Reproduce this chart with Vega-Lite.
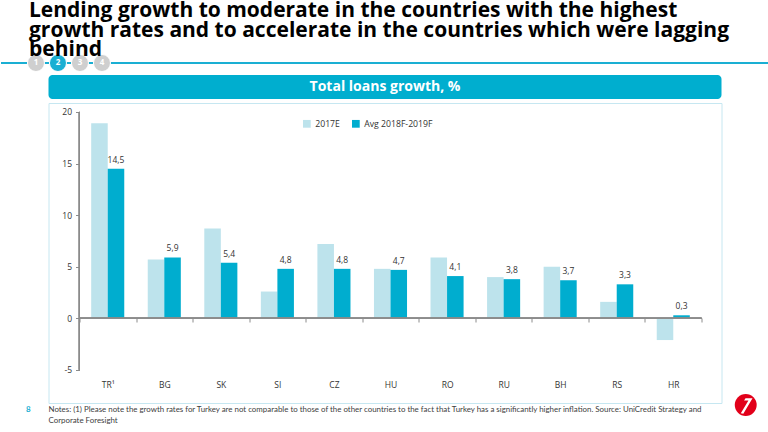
{
  "$schema": "https://vega.github.io/schema/vega-lite/v6.json",
  "padding": 0,
  "background": "white",
  "title": {
    "text": ["Lending growth to moderate in the countries with the highest", "growth rates and to accelerate in the countries which were lagging", "behind"],
    "anchor": "start",
    "frame": "group",
    "dx": 28,
    "font": "Open Sans",
    "fontSize": 21,
    "fontWeight": "bold",
    "color": "#000000",
    "lineHeight": 19.5,
    "offset": -8
  },
  "center": true,
  "bounds": "flush",
  "spacing": 4,
  "resolve": {"scale": {"color": "independent"}, "legend": {"color": "independent"}},
  "vconcat": [
    {
      "width": 768,
      "height": 16,
      "data": {"values": [
        {"n": 1, "label": "1", "state": "other"},
        {"n": 2, "label": "2", "state": "current"},
        {"n": 3, "label": "3", "state": "other"},
        {"n": 4, "label": "4", "state": "other"}
      ]},
      "layer": [
        {
          "mark": {"type": "rule", "color": "#1AAFD3", "strokeWidth": 1.5},
          "encoding": {"y": {"datum": 0, "type": "quantitative", "scale": {"domain": [-1, 1]}, "axis": null}}
        },
        {
          "mark": {"type": "point", "filled": true, "size": 290, "opacity": 1, "stroke": "white", "strokeWidth": 1},
          "encoding": {
            "x": {"field": "n", "type": "quantitative", "scale": {"domain": [-0.59, 34.32], "nice": false, "zero": false}, "axis": null},
            "y": {"datum": 0, "type": "quantitative"},
            "color": {"condition": {"test": "datum.state === 'current'", "value": "#1AAFD3"}, "value": "#CFCFCF"}
          }
        },
        {
          "mark": {"type": "text", "color": "white", "font": "Open Sans", "fontSize": 8, "fontWeight": "bold"},
          "encoding": {
            "x": {"field": "n", "type": "quantitative"},
            "y": {"datum": 0, "type": "quantitative"},
            "text": {"field": "label"}
          }
        }
      ]
    },
    {
      "width": 673,
      "height": 24,
      "data": {"values": [{"title": "Total loans growth, %"}]},
      "layer": [
        {"mark": {"type": "rect", "color": "#00AECF", "cornerRadius": 4}, "encoding": {}},
        {"mark": {"type": "text", "color": "white", "font": "Open Sans", "fontSize": 14, "fontWeight": "bold"}, "encoding": {"text": {"field": "title"}}}
      ]
    },
    {
      "width": 673,
      "height": 300,
      "view": {"stroke": "#C6E7F1", "strokeWidth": 1},
      "data": {"values": [
        {"country": "TR¹", "series": "2017E", "value": 18.9},
        {"country": "TR¹", "series": "Avg 2018F-2019F", "value": 14.5},
        {"country": "BG", "series": "2017E", "value": 5.7},
        {"country": "BG", "series": "Avg 2018F-2019F", "value": 5.9},
        {"country": "SK", "series": "2017E", "value": 8.7},
        {"country": "SK", "series": "Avg 2018F-2019F", "value": 5.4},
        {"country": "SI", "series": "2017E", "value": 2.6},
        {"country": "SI", "series": "Avg 2018F-2019F", "value": 4.8},
        {"country": "CZ", "series": "2017E", "value": 7.2},
        {"country": "CZ", "series": "Avg 2018F-2019F", "value": 4.8},
        {"country": "HU", "series": "2017E", "value": 4.8},
        {"country": "HU", "series": "Avg 2018F-2019F", "value": 4.7},
        {"country": "RO", "series": "2017E", "value": 5.9},
        {"country": "RO", "series": "Avg 2018F-2019F", "value": 4.1},
        {"country": "RU", "series": "2017E", "value": 4.0},
        {"country": "RU", "series": "Avg 2018F-2019F", "value": 3.8},
        {"country": "BH", "series": "2017E", "value": 5.0},
        {"country": "BH", "series": "Avg 2018F-2019F", "value": 3.7},
        {"country": "RS", "series": "2017E", "value": 1.6},
        {"country": "RS", "series": "Avg 2018F-2019F", "value": 3.3},
        {"country": "HR", "series": "2017E", "value": -2.1},
        {"country": "HR", "series": "Avg 2018F-2019F", "value": 0.3}
      ]},
      "layer": [
        {
          "mark": {"type": "bar"},
          "encoding": {
            "x": {
              "field": "country", "type": "nominal", "sort": null,
              "scale": {"paddingInner": 0, "paddingOuter": 0.45, "align": 0.608},
              "axis": {"title": null, "orient": "bottom", "offset": -85, "domain": false, "ticks": true, "tickBand": "extent", "tickSize": 4, "tickColor": "#8C8C8C", "labelAngle": 0, "labelPadding": 58, "labelFont": "Open Sans", "labelFontSize": 8.5, "labelColor": "#333333"}
            },
            "xOffset": {"field": "series", "type": "nominal", "scale": {"domain": ["2017E", "Avg 2018F-2019F"], "paddingInner": 0, "paddingOuter": 0.71}},
            "y": {
              "field": "value", "type": "quantitative",
              "scale": {"domain": [-8.2, 20.87], "nice": false, "zero": false},
              "axis": {"title": null, "values": [-5, 0, 5, 10, 15, 20], "format": "d", "offset": -31, "domain": false, "grid": false, "ticks": true, "tickSize": 4, "tickColor": "#8C8C8C", "labelPadding": 4, "labelFont": "Open Sans", "labelFontSize": 8.5, "labelColor": "#333333"}
            },
            "color": {
              "field": "series", "type": "nominal",
              "scale": {"domain": ["2017E", "Avg 2018F-2019F"], "range": ["#BDE3EC", "#00ADCF"]},
              "legend": {"title": null, "orient": "none", "legendX": 254, "legendY": 16, "direction": "horizontal", "symbolType": "square", "symbolSize": 60, "symbolStrokeWidth": 0, "labelFont": "Open Sans", "labelFontSize": 8.7, "labelColor": "#333333", "columnPadding": 11, "labelOffset": 4}
            }
          }
        },
        {
          "mark": {"type": "rule", "color": "#8C8C8C", "strokeWidth": 1},
          "encoding": {
            "y": {"datum": 0, "type": "quantitative"},
            "x": {"datum": "TR¹", "bandPosition": 0},
            "x2": {"datum": "HR", "bandPosition": 1}
          }
        },
        {
          "mark": {"type": "rule", "color": "#8C8C8C", "strokeWidth": 1},
          "encoding": {
            "x": {"datum": "TR¹", "bandPosition": 0},
            "y": {"datum": -5, "type": "quantitative"},
            "y2": {"datum": 20}
          }
        },
        {
          "transform": [{"filter": "datum.series === 'Avg 2018F-2019F'"}],
          "mark": {"type": "text", "dy": -9, "font": "Open Sans", "fontSize": 8.5, "color": "#333333"},
          "encoding": {
            "x": {"field": "country", "type": "nominal", "sort": null},
            "xOffset": {"field": "series", "type": "nominal"},
            "y": {"field": "value", "type": "quantitative"},
            "text": {"field": "value", "type": "quantitative", "format": ".1f"}
          }
        }
      ]
    },
    {
      "width": 673,
      "height": 22,
      "data": {"values": [
        {"line": 1, "text": "Notes: (1) Please note the growth rates for Turkey are not comparable to those of the other countries to the fact that Turkey has a significantly higher inflation. Source: UniCredit Strategy and"},
        {"line": 2, "text": "Corporate Foresight"}
      ]},
      "layer": [
        {
          "mark": {"type": "text", "align": "left", "font": "Lato", "fontSize": 7.9, "color": "#404040"},
          "encoding": {
            "x": {"datum": 0, "type": "quantitative", "scale": {"domain": [0, 1], "nice": false, "zero": false}, "axis": null},
            "y": {"field": "line", "type": "quantitative", "scale": {"domain": [0.727, 2.727], "nice": false, "zero": false, "reverse": true}, "axis": null},
            "text": {"field": "text"}
          }
        },
        {
          "data": {"values": [{"page": "8"}]},
          "mark": {"type": "text", "align": "center", "font": "Lato", "fontSize": 8, "fontWeight": "bold", "color": "#1AAFD3"},
          "encoding": {
            "x": {"datum": -0.03, "type": "quantitative"},
            "y": {"datum": 1, "type": "quantitative"},
            "text": {"field": "page"}
          }
        },
        {
          "data": {"values": [{"logo": "UniCredit"}]},
          "mark": {"type": "point", "shape": "circle", "filled": true, "size": 480, "color": "#E2001A", "opacity": 1},
          "encoding": {
            "x": {"datum": 1.036, "type": "quantitative"},
            "y": {"datum": 0.545, "type": "quantitative"}
          }
        },
        {
          "data": {"values": [{"logo": "UniCredit"}]},
          "mark": {"type": "point", "shape": "M -0.45 0.75 L 0.25 -0.42 L -0.15 -0.42 L -0.02 -0.62 L 0.62 -0.62 L -0.22 0.8 Z", "filled": true, "size": 480, "color": "#FFFFFF", "opacity": 1},
          "encoding": {
            "x": {"datum": 1.036, "type": "quantitative"},
            "y": {"datum": 0.545, "type": "quantitative"}
          }
        }
      ]
    }
  ],
  "config": {
    "view": {"stroke": null},
    "font": "Open Sans",
    "locale": {"number": {"decimal": ",", "thousands": ".", "grouping": [3], "currency": ["", ""], "minus": "-"}}
  }
}
